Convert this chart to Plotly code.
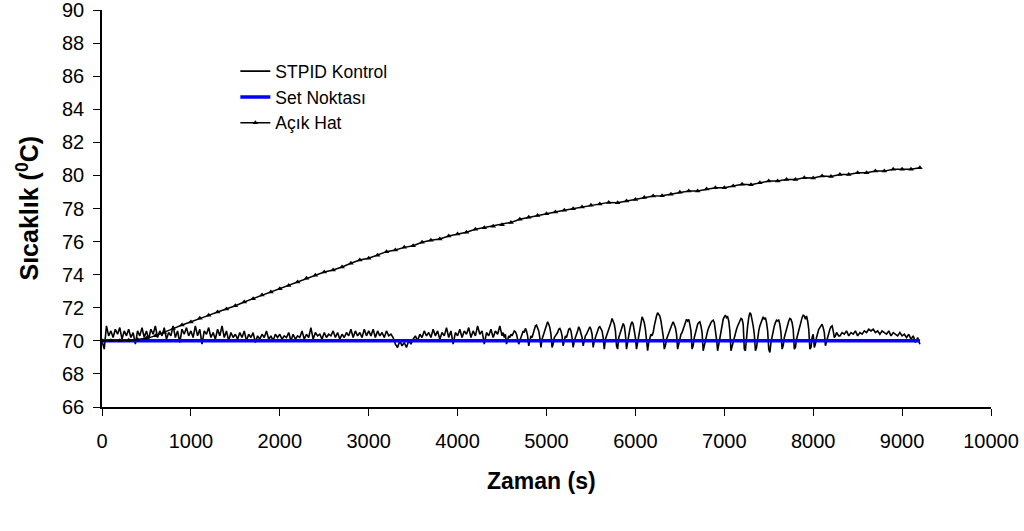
import plotly.graph_objects as go

# ---------------- data ----------------
# STPID Kontrol in three parts (start time, sampling step, values)
stpid_part1_start, stpid_part1_step = 0, 25
stpid_part1 = [
    # 0-475
    70.0, 69.5, 70.9, 70.3, 70.6, 70.2, 70.7, 70.4, 70.8, 70.1, 70.6, 70.3, 70.7, 70.2, 70.5, 69.8, 70.6, 70.3, 70.8, 70.2,
    # 500-975
    70.6, 70.1, 70.7, 70.4, 70.9, 70.2, 70.6, 70.3, 70.8, 70.1, 70.5, 70.3, 70.9, 70.2, 70.6, 69.9, 70.7, 70.4, 70.8, 70.3,
    # 1000-1475
    70.6, 70.2, 70.9, 70.3, 70.7, 69.8, 70.6, 70.4, 70.8, 70.2, 70.5, 70.1, 70.7, 70.3, 70.9, 70.2, 70.6, 70.0, 70.5, 70.2,
    # 1500-1975
    70.4, 70.1, 70.5, 70.2, 70.6, 70.0, 70.4, 70.2, 70.5, 69.9, 70.3, 70.1, 70.4, 70.2, 70.6, 70.1, 70.3, 70.0, 70.4, 70.2,
    # 2000-2475
    70.4, 70.1, 70.3, 70.2, 70.5, 70.0, 70.4, 70.1, 70.3, 70.2, 70.6, 70.1, 70.4, 70.2, 70.8, 70.1, 70.5, 70.3, 70.4, 70.1,
    # 2500-2975
    70.5, 70.2, 70.4, 70.3, 70.6, 70.2, 70.5, 70.1, 70.4, 70.2, 70.5, 70.3, 70.7, 70.2, 70.6, 70.3, 70.5, 70.2, 70.7, 70.3,
    # 3000-3475
    70.6, 70.3, 70.7, 70.2, 70.6, 70.3, 70.5, 70.2, 70.6, 70.3, 70.4, 70.2, 69.8, 69.6, 70.0, 69.7, 69.9, 69.6, 70.0, 69.8,
    # 3500-3975
    70.1, 70.3, 70.0, 70.4, 70.2, 70.6, 70.3, 70.5, 70.2, 70.7, 70.3, 70.6, 70.1, 70.5, 70.3, 70.8, 70.2, 70.6, 69.8, 70.5,
    # 4000-4475
    70.3, 70.7, 70.2, 70.6, 70.4, 70.8, 70.2, 70.6, 70.3, 70.9, 70.4, 70.6, 69.8, 70.5, 70.3, 70.7, 70.2, 70.6, 70.4, 70.9,
]

stpid_part2_start, stpid_part2_step = 4500, 12.5
stpid_part2 = [
    70.3, 70.5, 70.2, 70.4, 69.8, 70.1, 70.3, 70.2,      # 4500
    70.4, 70.3, 70.5, 70.6, 70.55, 70.4, 70.1, 69.8,     # 4600
    70.0, 70.3, 70.4, 70.6, 70.5, 70.75, 70.6, 70.3,     # 4700
    69.7, 70.0, 70.3, 70.2, 70.5, 70.7, 70.9, 70.95,     # 4800
    70.8, 70.6, 70.2, 69.6, 70.1, 70.3, 70.5, 70.7,      # 4900
    71.0, 71.15, 71.0, 70.8, 70.4, 69.6, 69.8, 70.2,     # 5000
    70.3, 70.4, 70.5, 70.7, 70.75, 70.6, 70.3, 69.7,     # 5100
    70.1, 70.3, 70.2, 70.5, 70.7, 70.75, 70.6, 70.2,     # 5200
    69.6, 70.0, 70.3, 70.4, 70.6, 70.85, 70.7, 70.5,     # 5300
    70.2, 69.7, 70.1, 70.3, 70.4, 70.6, 70.7, 70.85,     # 5400
    70.7, 70.4, 69.6, 70.0, 70.3, 70.4, 70.6, 70.8,      # 5500
    70.85, 70.7, 70.6, 70.2, 69.5, 70.1, 70.3, 70.5,     # 5600
    70.6, 70.9, 71.1, 71.35, 71.2, 71.0, 70.6, 69.7,     # 5700
    69.5, 70.2, 70.4, 70.6, 70.9, 71.05, 70.9, 70.4,     # 5800
    69.5, 70.0, 70.4, 70.7, 71.0, 71.15, 71.0, 70.7,     # 5900
    70.2, 69.5, 69.9, 70.4, 70.8, 71.2, 71.45, 71.3,     # 6000
    71.1, 70.7, 70.1, 69.4, 69.9, 70.2, 70.4, 70.3,      # 6100
    70.5, 70.9, 71.3, 71.5, 71.7, 71.6, 71.5, 71.2,      # 6200
    70.8, 70.3, 69.5, 69.7, 70.1, 70.3, 70.4, 70.6,      # 6300
    70.8, 71.0, 71.15, 71.0, 70.8, 70.4, 69.5, 69.8,     # 6400
    70.2, 70.4, 70.5, 70.7, 70.9, 71.2, 71.3, 71.2,      # 6500
    71.3, 71.0, 70.6, 69.5, 69.7, 70.2, 70.5, 70.8,      # 6600
    71.0, 71.1, 71.15, 70.9, 70.5, 69.4, 69.7, 70.2,     # 6700
    70.4, 70.6, 70.8, 71.0, 71.1, 71.2, 71.25, 71.1,     # 6800
    70.7, 70.1, 69.4, 69.8, 70.3, 70.7, 71.1, 71.3,      # 6900
    71.45, 71.55, 71.4, 71.45, 71.2, 70.6, 69.4, 69.7,   # 7000
    69.9, 70.3, 70.5, 70.7, 70.9, 71.1, 71.2, 71.35,     # 7100
    71.3, 71.0, 69.5, 69.4, 70.3, 70.9, 71.4, 71.7,      # 7200
    71.6, 71.3, 70.9, 70.4, 69.4, 69.6, 70.2, 70.6,      # 7300
    70.9, 71.1, 71.3, 71.45, 71.3, 71.4, 71.1, 70.6,     # 7400
    69.5, 69.3, 69.9, 70.3, 70.6, 70.9, 71.1, 71.25,     # 7500
    71.2, 71.25, 71.0, 70.5, 69.5, 69.7, 70.2, 70.5,     # 7600
    70.8, 71.0, 71.2, 71.35, 71.3, 71.1, 70.7, 69.5,     # 7700
    69.6, 70.1, 70.4, 70.7, 71.0, 71.2, 71.4, 71.55,     # 7800
    71.5, 71.3, 71.5, 71.2, 70.7, 69.5, 69.6, 70.2,      # 7900
    70.4, 69.6, 69.8, 70.2, 70.5, 70.7, 70.8, 70.95,     # 8000
    71.0, 70.8, 70.5, 69.7, 70.0, 70.3, 70.5, 70.7,      # 8100
    70.85, 70.9, 70.6, 70.2, 70.3, 70.5, 70.4, 70.3,     # 8200
]

stpid_part3_start, stpid_part3_step = 8300, 25
stpid_part3 = [
    70.3, 70.5, 70.4, 70.6, 70.3, 70.5, 70.4, 70.6,                                                                     # 8300-8475
    70.3, 70.5, 70.4, 70.6, 70.5, 70.7, 70.6, 70.7, 70.5, 70.6, 70.4, 70.6, 70.5, 70.4, 70.6, 70.3, 70.5, 70.4, 70.3, 70.5,  # 8500-8975
    70.3, 70.4, 70.2, 70.4, 70.1, 70.3, 69.9, 70.2, 69.8,                                                               # 9000-9200
]

# Set Noktası
set_time = [0, 9200]
set_vals = [70.0, 70.0]

# Açık Hat: sampled every 100 s from 0 to 9200 s
open_step = 100
open_vals = [
    70.0, 70.0, 70.0, 70.03, 70.08, 70.15, 70.3, 70.5, 70.74, 70.96,
    71.14, 71.36, 71.54, 71.74, 71.92, 72.12, 72.35, 72.55, 72.77, 72.95,
    73.15, 73.35, 73.55, 73.78, 73.96, 74.16, 74.28, 74.46, 74.69, 74.89,
    74.99, 75.17, 75.39, 75.49, 75.65, 75.75, 75.96, 76.08, 76.16, 76.34,
    76.46, 76.56, 76.74, 76.84, 76.92, 77.02, 77.16, 77.35, 77.47, 77.57,
    77.68, 77.79, 77.89, 77.99, 78.09, 78.19, 78.27, 78.37, 78.35, 78.45,
    78.55, 78.67, 78.75, 78.77, 78.86, 78.98, 79.06, 79.06, 79.18, 79.26,
    79.26, 79.36, 79.46, 79.44, 79.56, 79.66, 79.66, 79.76, 79.76, 79.86,
    79.84, 79.96, 79.94, 80.06, 80.06, 80.16, 80.16, 80.26, 80.26, 80.37,
    80.37, 80.37, 80.47,
]

x_ticks = list(range(0, 10001, 1000))
y_ticks = list(range(66, 91, 2))

# ---------------- assemble series ----------------
stpid_time, stpid_vals = [], []
for start, step, vals in [
    (stpid_part1_start, stpid_part1_step, stpid_part1),
    (stpid_part2_start, stpid_part2_step, stpid_part2),
    (stpid_part3_start, stpid_part3_step, stpid_part3),
]:
    stpid_time += [start + i * step for i in range(len(vals))]
    stpid_vals += vals

open_time = [i * open_step for i in range(len(open_vals))]

# ---------------- figure ----------------
FONT = "Liberation Sans, Arial, sans-serif"
fig = go.Figure()

fig.add_trace(go.Scatter(
    x=stpid_time, y=stpid_vals, mode="lines", name="STPID Kontrol",
    line=dict(color="black", width=1.6),
))
fig.add_trace(go.Scatter(
    x=set_time, y=set_vals, mode="lines", name="Set Noktası",
    line=dict(color="#0000FF", width=3.5),
))
fig.add_trace(go.Scatter(
    x=open_time, y=open_vals, mode="lines+markers", name="Açık Hat",
    line=dict(color="black", width=1.5),
    marker=dict(symbol="triangle-up", size=5, color="black"),
))

fig.update_layout(
    width=1024, height=531,
    margin=dict(l=102, r=33, t=10, b=124, autoexpand=False),
    paper_bgcolor="white", plot_bgcolor="white",
    font=dict(family=FONT, size=18, color="black"),
    showlegend=True,
    legend=dict(
        x=0.15, y=0.891, xanchor="left", yanchor="top",
        bgcolor="rgba(0,0,0,0)", font=dict(size=17.5, family=FONT),
        tracegroupgap=0, itemwidth=30,
    ),
    xaxis=dict(
        range=[0, 10000], tickvals=x_ticks, ticktext=[str(v) for v in x_ticks],
        showline=True, linecolor="black", linewidth=1.5,
        ticks="outside", ticklen=7, tickcolor="black", tickwidth=1,
        showgrid=False, zeroline=False, ticklabelstandoff=8,
        tickfont=dict(size=20, family=FONT),
        automargin=False, ticklabeloverflow="allow",
    ),
    yaxis=dict(
        range=[66, 90], tickvals=y_ticks, ticktext=[str(v) for v in y_ticks],
        showline=True, linecolor="black", linewidth=1.5,
        ticks="outside", ticklen=7, tickcolor="black", tickwidth=1,
        showgrid=False, zeroline=False, ticklabelstandoff=5,
        tickfont=dict(size=20, family=FONT),
        automargin=False, ticklabeloverflow="allow",
    ),
    annotations=[
        dict(text="<b>Zaman (s)</b>", xref="paper", yref="paper",
             x=0.5, xshift=-5, y=0, yshift=-74, xanchor="center", yanchor="middle",
             showarrow=False, font=dict(size=23, family=FONT)),
        dict(text="<b>Sıcaklık (<sup>0</sup>C)</b>", xref="paper", yref="paper",
             x=0, xshift=-75, y=0.5, xanchor="center", yanchor="middle",
             textangle=-90, showarrow=False, font=dict(size=25, family=FONT)),
    ],
)

fig.write_html("out.html")
